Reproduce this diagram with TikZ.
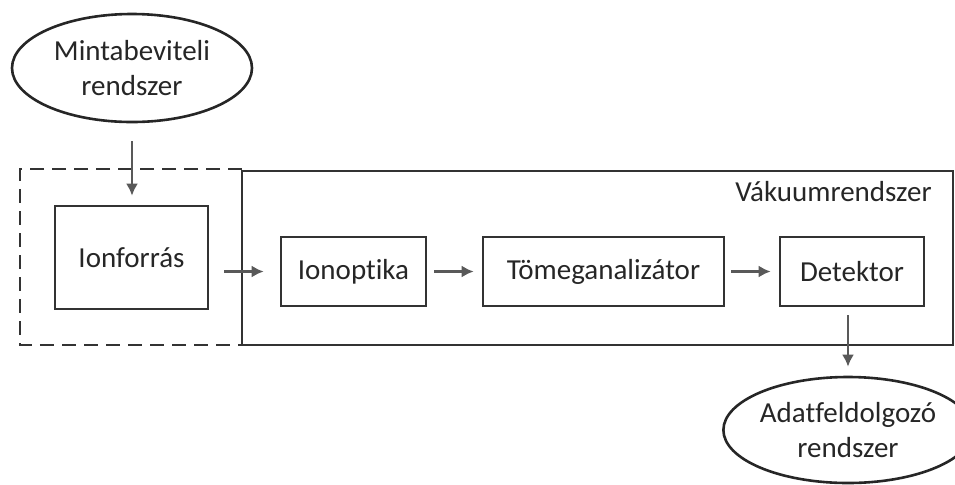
\documentclass[tikz,border=0pt]{standalone}
\usepackage{fontspec}
\setmainfont{Carlito}[RawFeature={-liga;-dlig}]
\usetikzlibrary{shapes.geometric,arrows.meta}
\begin{document}
\begin{tikzpicture}[x=0.5pt,y=-0.5pt,
  font=\fontsize{14.5}{17.5}\selectfont,
  every node/.style={text=black!85},
  box/.style={draw=black!80,line width=1.3pt,rectangle,inner sep=0pt,minimum height=34.5pt},
  oval/.style={draw=black!85,line width=1.3pt,ellipse,inner sep=0pt,align=center},
  arr/.style={draw=black!65,line width=1.3pt,-{Latex[length=6pt,width=6pt]}},
  frame/.style={draw=black!80,line width=1.3pt}]
\useasboundingbox (0,0) rectangle (955,484);
% frames
\draw[frame] (242,171) rectangle (953,345);
\draw[frame,dashed,dash pattern=on 7pt off 4pt] (242,169) -- (20,169) -- (20,345) -- (242,345);
\node[anchor=east,inner sep=0pt] (vak) at (932,192) {Vákuumrendszer};
% nodes
\node[oval,minimum width=120pt,minimum height=54pt] (minta) at (132,68) {Mintabeviteli\\rendszer};
\node[box,minimum width=76.5pt,minimum height=51.5pt] (ion) at (131.5,257.5) {Ionforrás};
\node[box,minimum width=72.5pt] (iop) at (353.5,271.5) {Ionoptika};
\node[box,minimum width=120.5pt] (tom) at (603.5,271.5) {Tömeganalizátor};
\node[box,minimum width=72pt] (det) at (852,271.5) {Detektor};
\node[oval,minimum width=114pt,minimum height=53pt] (adat) at (848,430) {Adatfeldolgozó\\rendszer};
% connectors
\draw[arr,shorten <=9pt,shorten >=4.5pt] (minta.south) -- (minta.south |- ion.north);
\draw[arr,shorten <=7.5pt,shorten >=8pt] (ion.east |- iop.west) -- (iop.west);
\draw[arr,shorten <=3.5pt,shorten >=4pt] (iop) -- (tom);
\draw[arr,shorten <=3pt,shorten >=4pt] (tom) -- (det);
\draw[arr,shorten <=4pt,shorten >=4.5pt] (det.south -| adat.north) -- (adat.north);
\end{tikzpicture}
\end{document}
